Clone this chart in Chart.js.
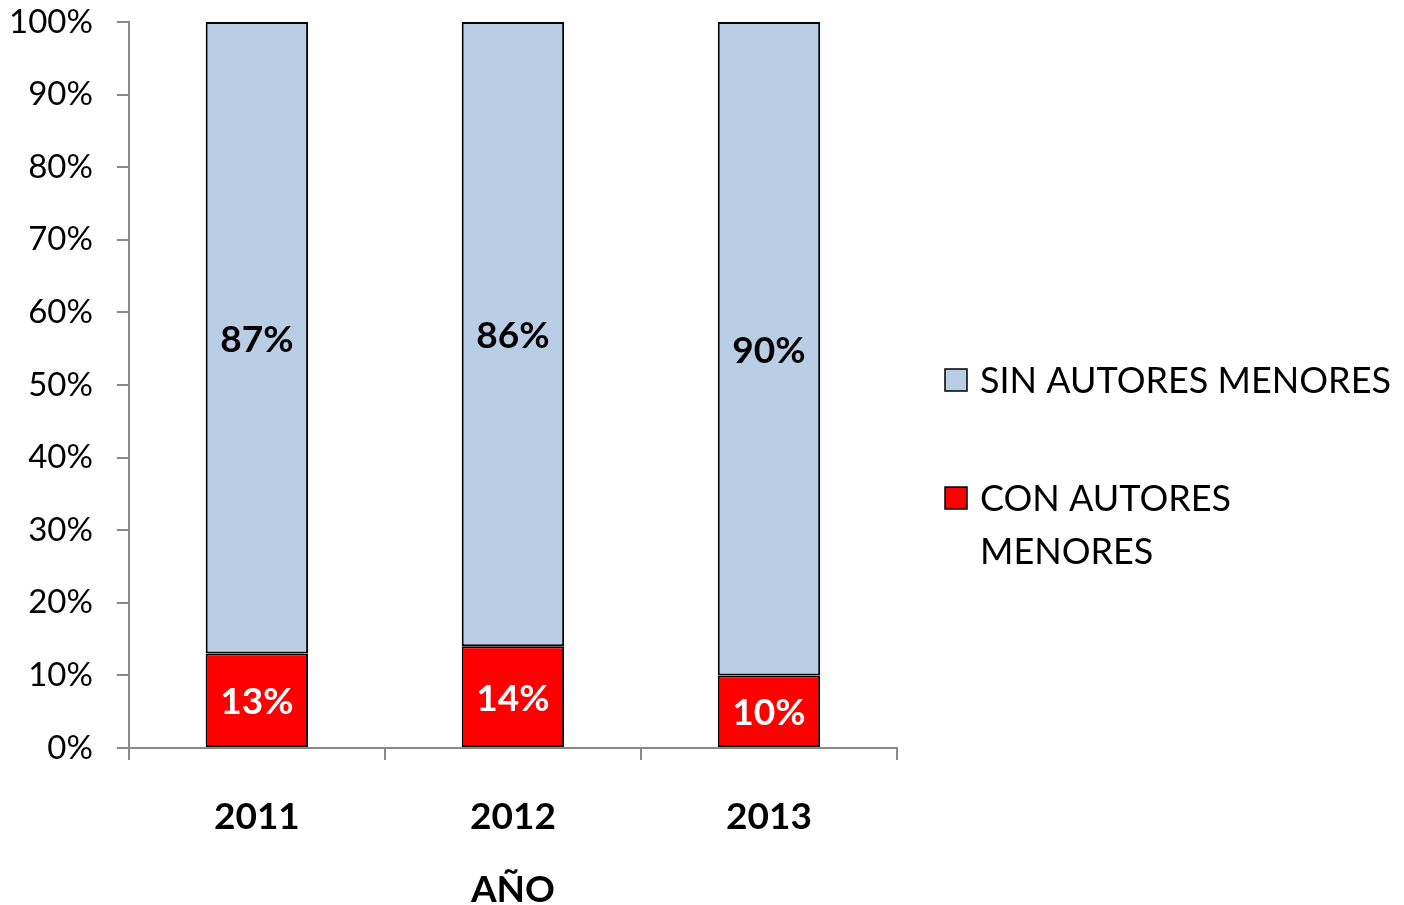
<!DOCTYPE HTML>
<html>
<head>
  <title>Autores menores</title>
  <script src="https://cdn.jsdelivr.net/npm/chart.js"></script>
  <style>
    html, body { margin: 0; padding: 0; background: #fff; }
    .chart-container { position: relative; width: 1404px; height: 905px; }
  </style>
</head>
<body>
  <div class="chart-container">
    <canvas id="anoChart"></canvas>
  </div>
  <script type="text/javascript">
    const ctx = document.getElementById('anoChart');

    // data
    var xvarAno = ["2011", "2012", "2013"];
    var yvarCon = [13, 14, 10];
    var yvarSin = [87, 86, 90];
    var legendSin = ["SIN AUTORES MENORES"];
    var legendCon = ["CON AUTORES", "MENORES"];

    var fontName = 'Lato, "Open Sans", sans-serif';
    var axisGray = '#898989';

    // labels inside each segment
    const segLabels = {
      id: 'segLabels',
      afterDatasetsDraw(chart) {
        const c = chart.ctx;
        c.save();
        c.font = 'bold 37px ' + fontName;
        c.textAlign = 'center';
        c.textBaseline = 'middle';
        chart.data.datasets.forEach((ds, i) => {
          const meta = chart.getDatasetMeta(i);
          meta.data.forEach((bar, j) => {
            c.fillStyle = ds.labelColor;
            c.fillText(ds.data[j] + '%', bar.x, (bar.y + bar.base) / 2 + 2);
          });
        });
        c.restore();
      }
    };

    // legend on the right, second entry wraps like the original
    const sideLegend = {
      id: 'sideLegend',
      afterDraw(chart) {
        const c = chart.ctx;
        const ds = chart.data.datasets;
        const items = [
          { fill: ds[1].backgroundColor, lines: legendSin, y: 380 },
          { fill: ds[0].backgroundColor, lines: legendCon, y: 498 }
        ];
        c.save();
        c.font = '36px ' + fontName;
        c.textBaseline = 'middle';
        c.textAlign = 'left';
        items.forEach(it => {
          c.fillStyle = it.fill;
          c.fillRect(945, it.y - 11, 22, 22);
          c.strokeStyle = '#000';
          c.lineWidth = 1.5;
          c.strokeRect(945, it.y - 11, 22, 22);
          c.fillStyle = '#000';
          it.lines.forEach((t, k) => c.fillText(t, 980, it.y + 1 + k * 53));
        });
        c.restore();
      }
    };

    new Chart(ctx, {
      type: 'bar',
      data: {
        labels: xvarAno,
        datasets: [
          {
            label: 'CON AUTORES MENORES',
            data: yvarCon,
            backgroundColor: '#ff0000',
            borderColor: '#000000',
            borderWidth: 2,
            borderSkipped: false,
            labelColor: '#ffffff',
            categoryPercentage: 1.0,
            barPercentage: 0.4
          },
          {
            label: 'SIN AUTORES MENORES',
            data: yvarSin,
            backgroundColor: '#b9cde5',
            borderColor: '#000000',
            borderWidth: 2,
            borderSkipped: false,
            labelColor: '#000000',
            categoryPercentage: 1.0,
            barPercentage: 0.4
          }
        ]
      },
      options: {
        responsive: true,
        maintainAspectRatio: false,
        animation: false,
        layout: { padding: { top: 0, right: 507, left: -15, bottom: 0 } },
        plugins: {
          legend: { display: false },
          tooltip: { enabled: false }
        },
        scales: {
          x: {
            stacked: true,
            border: { color: axisGray, width: 2 },
            grid: { offset: true, drawOnChartArea: false, drawTicks: true, tickLength: 12, color: axisGray, lineWidth: 2 },
            ticks: { color: '#000', padding: 35, font: { family: fontName, size: 37, weight: 'bold' } },
            title: { display: true, text: 'AÑO', color: '#000', padding: { top: 0, bottom: -7 }, font: { family: fontName, size: 37, weight: 'bold' } },
            afterFit: s => { s.height = 157; }
          },
          y: {
            stacked: true,
            min: 0,
            max: 100,
            border: { color: axisGray, width: 2 },
            grid: { drawOnChartArea: false, drawTicks: true, tickLength: 12, color: axisGray, lineWidth: 2 },
            ticks: {
              stepSize: 10,
              color: '#000',
              padding: 24,
              font: { family: fontName, size: 33 },
              callback: v => v + '%'
            },
            afterFit: s => { s.paddingTop = 22; s.paddingBottom = 0; }
          }
        }
      },
      plugins: [segLabels, sideLegend]
    });
  </script>
</body>
</html>
